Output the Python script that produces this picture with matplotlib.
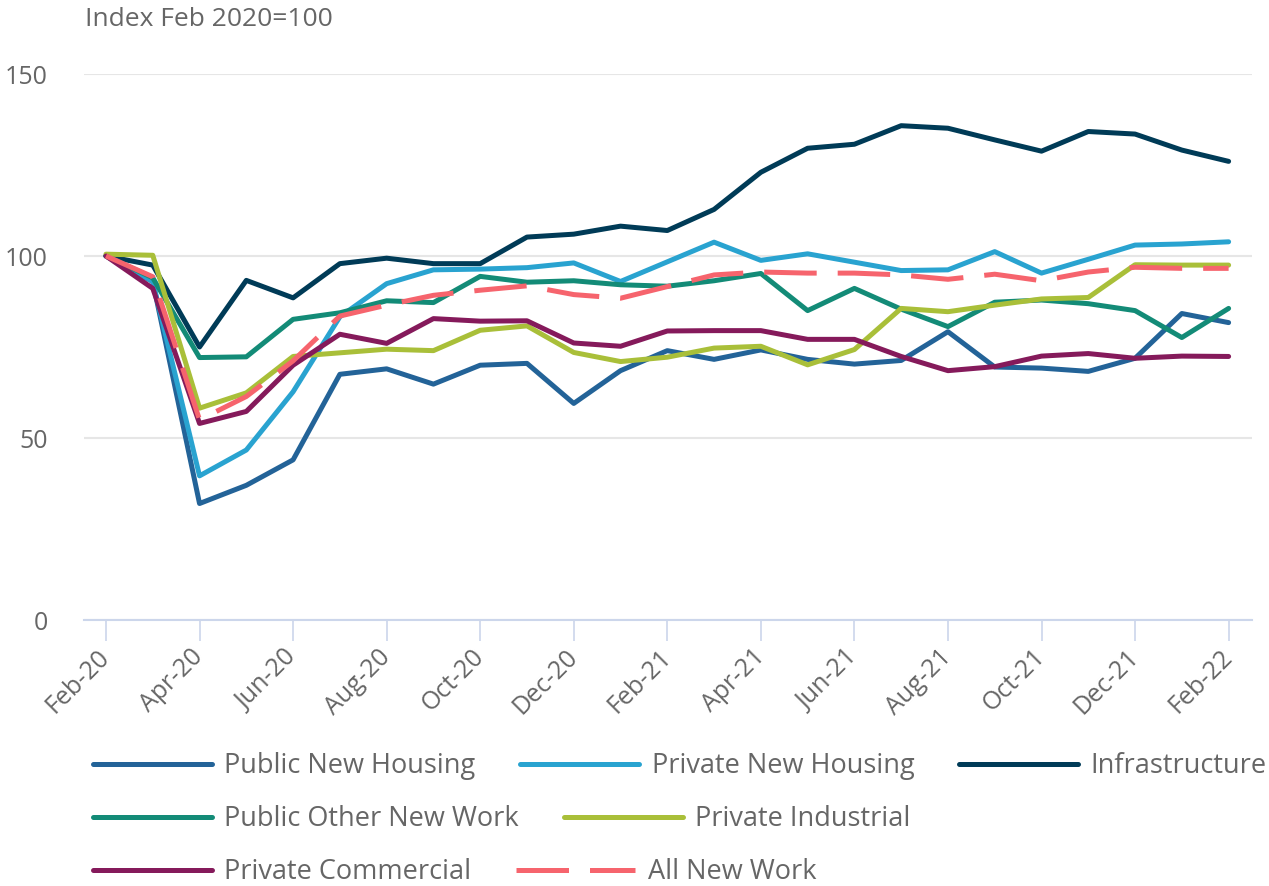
import matplotlib.pyplot as plt

plt.rcParams["font.family"] = ["Open Sans", "DejaVu Sans"]

# Monthly index, Feb 2020 = 100 (Feb-20 .. Feb-22)
months = list(range(25))
tick_pos = list(range(0, 25, 2))
tick_labels = ["Feb-20", "Apr-20", "Jun-20", "Aug-20", "Oct-20", "Dec-20",
               "Feb-21", "Apr-21", "Jun-21", "Aug-21", "Oct-21", "Dec-21", "Feb-22"]

public_new_housing = [100, 93, 32, 37, 44, 67.5, 69, 64.8, 70, 70.5, 59.5, 68.5, 74,
                      71.6, 74.2, 71.6, 70.3, 71.3, 79.2, 69.5, 69.2, 68.3, 71.9, 84.2, 81.7]
private_new_housing = [100, 93, 39.6, 46.7, 62.7, 83.3, 92.4, 96.2, 96.4, 96.8, 98.1, 93, 98.4,
                       103.8, 98.8, 100.6, 98.3, 96, 96.2, 101.2, 95.3, 99.1, 103, 103.3, 103.9]
infrastructure = [100, 97.5, 75, 93.3, 88.5, 97.9, 99.4, 97.9, 97.9, 105.2, 106, 108.2, 107,
                  112.8, 123, 129.6, 130.7, 135.8, 135.1, 131.9, 128.8, 134.2, 133.5, 129.1, 126]
public_other_new_work = [100, 94, 72.1, 72.3, 82.6, 84.4, 87.7, 87.2, 94.4, 92.8, 93.2, 92.1, 91.7,
                         93.2, 95.2, 85, 91.1, 85.4, 80.6, 87.3, 87.9, 86.9, 85, 77.6, 85.6]
private_industrial = [100.5, 100.2, 58.2, 62.4, 72.4, 73.4, 74.4, 74, 79.6, 80.8, 73.5, 71, 72.2,
                      74.7, 75.2, 70.1, 74.3, 85.6, 84.7, 86.5, 88.2, 88.6, 97.6, 97.5, 97.5]
private_commercial = [100, 91.1, 54, 57.3, 70, 78.5, 76, 82.8, 82.1, 82.2, 76.1, 75.2, 79.4,
                      79.5, 79.5, 77.1, 77.1, 72.4, 68.5, 69.6, 72.5, 73.2, 71.9, 72.5, 72.4]
all_new_work = [100, 94.3, 55, 61.4, 71.2, 83.5, 86.5, 89.2, 90.6, 91.8, 89.4, 88.4, 91.6,
                94.8, 95.6, 95.3, 95.3, 94.8, 93.6, 95, 93.2, 95.6, 96.9, 96.6, 96.6]

series = [
    ("Public New Housing", public_new_housing, "#236398"),
    ("Private New Housing", private_new_housing, "#29a3d0"),
    ("Infrastructure", infrastructure, "#003b57"),
    ("Public Other New Work", public_other_new_work, "#138b77"),
    ("Private Industrial", private_industrial, "#a9bf39"),
    ("Private Commercial", private_commercial, "#851a5b"),
    ("All New Work", all_new_work, "#f6646d"),
]

fig = plt.figure(figsize=(12.69, 8.86), dpi=100)
ax = fig.add_axes([84 / 1269, 1 - 620 / 886, (1252 - 84) / 1269, (620 - 74) / 886])

handles = {}
for name, vals, col in series:
    if name == "All New Work":
        ln, = ax.plot(months, vals, color=col, lw=3.6, linestyle=(0, (10.5, 4.2)),
                      dash_capstyle="butt", label=name)
    else:
        ln, = ax.plot(months, vals, color=col, lw=3.6, solid_joinstyle="round",
                      solid_capstyle="round", label=name)
    handles[name] = ln

ax.set_xlim(-0.47, 24.5)
ax.set_ylim(0, 150)
ax.set_yticks([0, 50, 100, 150])
ax.set_xticks(tick_pos)
ax.set_xticklabels(tick_labels, rotation=45, ha="right", va="center", rotation_mode="anchor")
ax.grid(axis="y", color="#e6e6e6", lw=1.5)
ax.set_axisbelow(True)
for s in ["top", "right", "left"]:
    ax.spines[s].set_visible(False)
ax.spines["bottom"].set_color("#ccd6eb")
ax.spines["bottom"].set_linewidth(1.5)
ax.tick_params(axis="x", length=15, width=1.2, color="#ccd6eb", labelcolor="#666666",
               labelsize=18, pad=9)
ax.tick_params(axis="y", length=0, labelcolor="#666666", labelsize=18, pad=26)

fig.text(85 / 1269, 1 - 19 / 886, "Index Feb 2020=100", color="#666666", fontsize=19,
         va="center", ha="left")

# legend rows, flowing left to right like the original
rows = [
    ["Public New Housing", "Private New Housing", "Infrastructure"],
    ["Public Other New Work", "Private Industrial"],
    ["Private Commercial", "All New Work"],
]
row_y = [766, 819, 872]
for names, yy in zip(rows, row_y):
    fig.legend([handles[n] for n in names], names, ncol=len(names), loc="center left",
               bbox_to_anchor=(93 / 1269, 1 - yy / 886), frameon=False, fontsize=19.5,
               labelcolor="#666666", handlelength=4.4, handletextpad=0.45,
               columnspacing=1.65, borderpad=0, borderaxespad=0)

fig.savefig("out.png", dpi=100)
